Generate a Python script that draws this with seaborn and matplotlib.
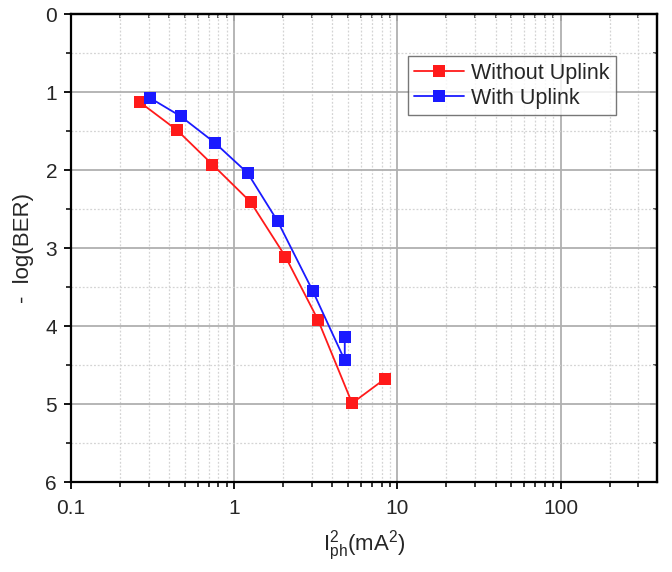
import numpy as np
import pandas as pd
import matplotlib
matplotlib.use("Agg")
import matplotlib.pyplot as plt
import matplotlib.ticker as mticker
import seaborn as sns

# Data
x_without = [0.264, 0.447, 0.736, 1.26, 2.06, 3.26, 5.28, 8.36]
y_without = [1.13, 1.49, 1.93, 2.41, 3.11, 3.92, 4.99, 4.68]
x_with = [0.307, 0.469, 0.760, 1.21, 1.85, 3.03, 4.76, 4.76]
y_with = [1.08, 1.31, 1.65, 2.04, 2.66, 3.55, 4.44, 4.14]
series_names = ["Without Uplink", "With Uplink"]
series_colors = ["#ff1a1a", "#1a1aff"]
y_ticks = [0, 1, 2, 3, 4, 5, 6]
x_ticks = [0.1, 1, 10, 100]
x_tick_labels = ["0.1", "1", "10", "100"]

df = pd.DataFrame({
    "x": x_without + x_with,
    "y": y_without + y_with,
    "series": [series_names[0]] * len(x_without) + [series_names[1]] * len(x_with),
})

sns.set_theme(style="white")
plt.rcParams["font.family"] = ["Liberation Sans", "DejaVu Sans"]
plt.rcParams["mathtext.default"] = "regular"

fig = plt.figure(figsize=(6.72, 5.72), dpi=100)
ax = fig.add_axes([71 / 672, 1 - 482 / 572, 586 / 672, 468 / 572])

ax.set_xscale("log")
ax.set_xlim(0.1, 390)
ax.set_ylim(6, 0)

# grid
ax.xaxis.set_major_locator(mticker.FixedLocator(x_ticks))
ax.xaxis.set_major_formatter(mticker.FixedFormatter(x_tick_labels))
ax.xaxis.set_minor_locator(mticker.LogLocator(base=10, subs=np.arange(2, 10)))
ax.xaxis.set_minor_formatter(mticker.NullFormatter())
ax.yaxis.set_major_locator(mticker.FixedLocator(y_ticks))
ax.yaxis.set_minor_locator(mticker.MultipleLocator(0.5))
ax.grid(True, which="major", color="#b0b0b0", linewidth=1.3, linestyle="-")
ax.grid(True, which="minor", color="#d4d4d4", linewidth=0.9, linestyle=(0, (1.5, 1.5)))
ax.set_axisbelow(True)

sns.lineplot(data=df, x="x", y="y", hue="series", hue_order=series_names,
             palette=series_colors, marker="s", markersize=9, markeredgewidth=0,
             linewidth=1.3, estimator=None, sort=False, ax=ax)

ax.set_xlim(0.1, 390)
ax.set_ylim(6, 0)

for s in ax.spines.values():
    s.set_color("black")
    s.set_linewidth(1.6)

ax.tick_params(axis="both", which="major", direction="out", length=5, width=1.3,
               color="black", labelsize=15)
ax.tick_params(axis="x", which="major", pad=7)
ax.tick_params(axis="y", which="major", pad=5)
ax.tick_params(axis="both", which="minor", direction="out", length=3.5, width=1.1,
               color="black")
ax.tick_params(axis="both", which="both", bottom=True, left=True, top=False, right=False)

# top/right inward ticks
secx = ax.secondary_xaxis("top")
secx.xaxis.set_major_locator(mticker.FixedLocator(x_ticks))
secx.xaxis.set_minor_locator(mticker.LogLocator(base=10, subs=np.arange(2, 10)))
secx.tick_params(which="major", direction="in", length=5, width=1.3, labeltop=False)
secx.tick_params(which="minor", direction="in", length=3, width=1.1, labeltop=False)
secx.xaxis.set_minor_formatter(mticker.NullFormatter())
secx.spines["top"].set_linewidth(1.6)
secy = ax.secondary_yaxis("right")
secy.yaxis.set_major_locator(mticker.FixedLocator(y_ticks))
secy.yaxis.set_minor_locator(mticker.MultipleLocator(0.5))
secy.tick_params(which="major", direction="in", length=5, width=1.3, labelright=False)
secy.tick_params(which="minor", direction="in", length=3, width=1.1, labelright=False)
secy.spines["right"].set_linewidth(1.6)

ax.set_xlabel(r"$I^2_{ph}$(mA$^2$)", fontsize=16, labelpad=8)
ax.set_ylabel("-  log(BER)", fontsize=16, labelpad=8)

leg = ax.legend(loc="upper left", bbox_to_anchor=(0.575, 0.91), borderaxespad=0,
                fontsize=15.5, frameon=True, fancybox=False, edgecolor="#555555",
                handlelength=2.3, handletextpad=0.35, borderpad=0.3,
                labelspacing=0.2, title=None)
leg.get_frame().set_linewidth(1.0)

fig.savefig("out.png", dpi=100)
